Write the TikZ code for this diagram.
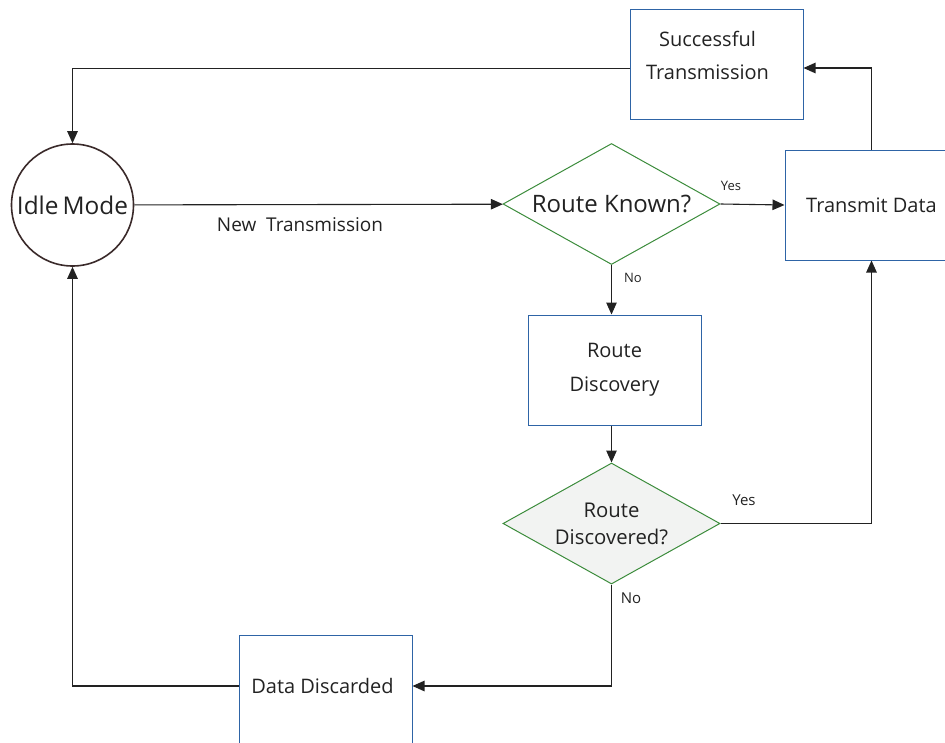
\documentclass[tikz,border=0pt]{standalone}
\usepackage{fontspec}
\setmainfont{Open Sans}
\usetikzlibrary{shapes.geometric,arrows.meta}
\definecolor{boxblue}{HTML}{2E64A6}
\definecolor{dgreen}{HTML}{3C8C3C}
\definecolor{circbrd}{HTML}{3A2A2A}
\definecolor{lgray}{HTML}{F2F3F2}
\definecolor{txt}{HTML}{222222}
\definecolor{lnc}{HTML}{222222}
\tikzset{
  every node/.style={text=txt},
  procbox/.style={draw=boxblue, line width=1pt, rectangle, minimum width=173pt, minimum height=110pt, inner sep=0pt, align=center, font=\fontsize{20}{34}\selectfont},
  decide/.style={draw=dgreen, line width=1pt, diamond, minimum width=217pt, minimum height=121pt, inner sep=0pt},
  conn/.style={draw=lnc, line width=1.1pt, -{Triangle[length=12pt,width=10.5pt]}},
  lbl/.style={font=\fontsize{13}{15}\selectfont},
  lblb/.style={font=\fontsize{15}{17}\selectfont},
  mid/.style={font=\fontsize{19}{22}\selectfont}
}
\begin{document}
\begin{tikzpicture}[x=1pt,y=-1pt]
\useasboundingbox (0,0) rectangle (945,742);
\node[circle, draw=circbrd, line width=1.6pt, minimum size=122pt, inner sep=0pt, font=\fontsize{24.4}{28}\selectfont] (idle) at (72.5,205) {Idle\,Mode};
\node[procbox, label={[xshift=-9pt,yshift=9pt,align=center,font=\fontsize{20}{33}\selectfont,text=txt]center:Successful\\Transmission}] (st) at (716.5,64.5) {};
\node[procbox] (td) at (871.5,205) {Transmit Data};
\node[decide, fill=white, label={[font=\fontsize{24}{28}\selectfont,text=txt]center:Route Known?}] (rk) at (611.5,204) {};
\node[procbox] (rd) at (614.5,370) {Route\\Discovery};
\node[decide, fill=lgray, label={[align=center,font=\fontsize{20.3}{27}\selectfont,text=txt]center:Route\\Discovered?}] (rdd) at (611.5,523.5) {};
\node[procbox, label={[xshift=-3pt,yshift=4pt,font=\fontsize{20}{34}\selectfont,text=txt]center:Data Discarded}] (dd) at (325.5,690) {};

\draw[conn] (idle) -- (rk);
\node[mid] (lnew) at (300,225) {New\ \ Transmission};
\draw[conn] (rk.east) -- (td.west);
\node[lbl] (ly1) at (731,186) {Yes};
\draw[conn] (rk.south) -- (rk.south |- rd.north);
\node[lbl] (ln1) at (633,278) {No};
\draw[conn] (rdd.north |- rd.south) -- (rdd.north);
\draw[conn] (rdd.east) -| (td.south);
\node[lblb] (ly2) at (744,500) {Yes};
\draw[conn] (rdd.south) |- ([yshift=4pt]dd.east);
\node[lblb] (ln2) at (631,598) {No};
\draw[conn] ([yshift=4pt]dd.west) -| (idle.south);
\draw[conn] (td.north) |- ([yshift=-3.5pt]st.east);
\draw[conn] ([yshift=-4pt]st.west) -| (idle.north);
\end{tikzpicture}
\end{document}
